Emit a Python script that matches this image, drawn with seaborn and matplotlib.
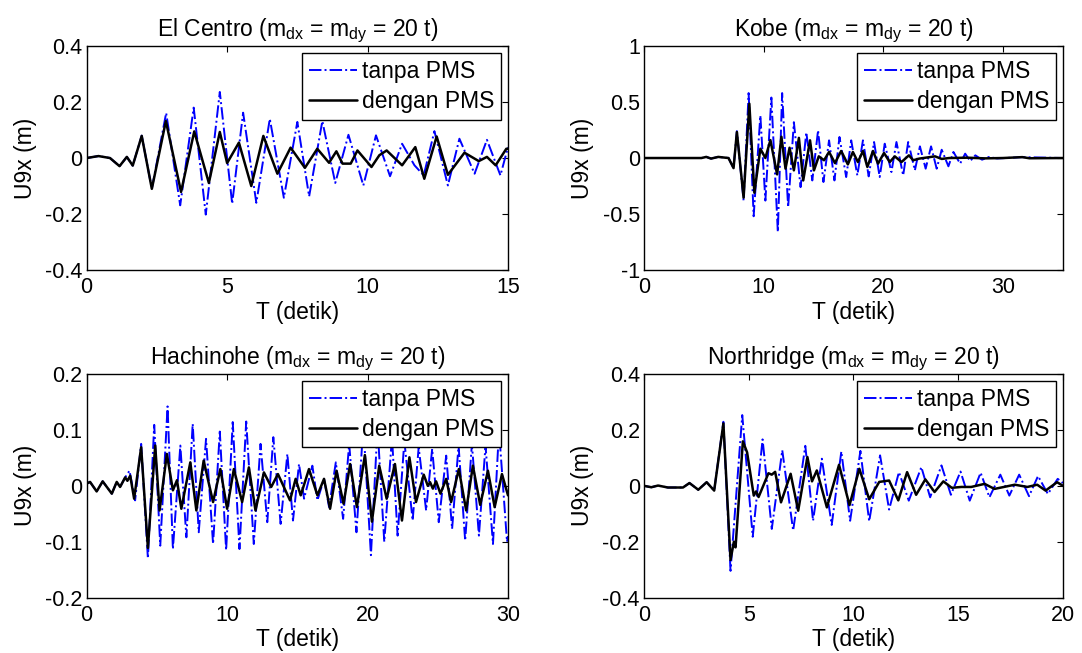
import matplotlib
matplotlib.use("Agg")
import matplotlib.pyplot as plt
import seaborn as sns
from matplotlib.ticker import FuncFormatter

# El Centro
elc_t_tanpa = [0, 0.42, 0.83, 1.17, 1.43, 1.64, 1.96, 2.32, 2.83, 3.33, 3.81, 4.24, 4.74, 5.18, 5.57, 6.04,
               6.52, 7.02, 7.5, 7.92, 8.39, 8.85, 9.32, 9.85, 10.3, 10.8, 11.23, 11.67, 12.0, 12.38, 12.86,
               13.27, 13.81, 14.25, 14.73, 15.0]
elc_u_tanpa = [0, 0.007, 0, -0.029, 0.004, -0.027, 0.08, -0.11, 0.161, -0.169, 0.18, -0.202, 0.236, -0.163,
               0.162, -0.16, 0.14, -0.142, 0.129, -0.137, 0.132, -0.089, 0.083, -0.098, 0.081, -0.065, 0.051,
               -0.026, -0.062, 0.096, -0.098, 0.069, -0.056, 0.065, -0.062, 0.039]
elc_t_dengan = [0, 0.42, 0.83, 1.17, 1.43, 1.64, 1.96, 2.32, 2.82, 3.36, 3.83, 4.35, 4.74, 5.0, 5.42, 5.86,
                6.29, 6.79, 7.26, 7.77, 8.21, 8.63, 8.89, 9.11, 9.4, 9.64, 10.14, 10.42, 10.68, 11.23, 11.7,
                12.02, 12.46, 12.86, 13.45, 13.96, 14.25, 14.56, 14.94, 15.0]
elc_u_dengan = [0, 0.007, 0, -0.029, 0.004, -0.027, 0.079, -0.11, 0.132, -0.121, 0.095, -0.089, 0.093, -0.018,
                0.055, -0.10, 0.079, -0.056, 0.037, -0.035, 0.033, -0.017, 0.024, -0.02, -0.02, 0.027, -0.032,
                0.01, 0.027, -0.026, 0.039, -0.074, 0.077, -0.06, 0.019, -0.011, 0.004, -0.026, 0.033, 0.033]

# Kobe
kobe_t_tanpa = [0, 4.8, 5.2, 5.6, 6.2, 7.06, 7.48, 7.76, 8.32, 8.74, 9.16, 9.72, 10.14, 10.64, 11.18, 11.54,
                12.04, 12.52, 13.08, 13.56, 14.06, 14.54, 14.99, 15.46, 15.91, 16.33, 16.89, 17.31, 17.82,
                18.29, 18.77, 19.22, 19.69, 20.11, 20.67, 21.09, 21.65, 22.07, 22.63, 23.05, 23.53, 23.98,
                24.45, 24.87, 25.43, 25.85, 26.41, 26.83, 27.25, 27.68, 28.24, 28.8, 29.5, 31.6, 35.0]
kobe_u_tanpa = [0, 0, 0.01, -0.005, 0.01, 0, -0.09, 0.24, -0.38, 0.58, -0.52, 0.38, -0.38, 0.54, -0.66, 0.58,
                -0.44, 0.32, -0.26, 0.23, -0.2, 0.247, -0.214, 0.158, -0.2, 0.188, -0.17, 0.158, -0.155,
                0.158, -0.164, 0.143, -0.17, 0.128, -0.125, 0.143, -0.155, 0.143, -0.11, 0.104, -0.095, 0.104,
                -0.095, 0.074, -0.074, 0.054, -0.05, 0.039, -0.027, 0.024, -0.015, 0.009, -0.004, 0.008, 0]
kobe_t_dengan = [0, 4.8, 5.2, 5.6, 6.2, 7.06, 7.48, 7.76, 8.32, 8.8, 9.22, 9.72, 10.14, 10.56, 11.12, 11.48,
                 11.82, 12.16, 12.52, 12.94, 13.3, 13.87, 14.2, 14.6, 15.04, 15.46, 15.95, 16.47, 17.03, 17.45,
                 17.87, 18.29, 18.66, 19.13, 19.55, 20.05, 20.53, 20.95, 21.51, 22.13, 22.49, 23.0, 24.31,
                 24.87, 25.5, 27.0, 28.5, 30.0, 31.6, 32.2, 35.0]
kobe_u_dengan = [0, 0, 0.01, -0.005, 0.01, 0, -0.09, 0.232, -0.354, 0.485, -0.31, 0.083, 0, 0.16, -0.146, 0.19,
                 -0.095, 0.092, -0.11, 0.18, -0.2, 0.158, -0.11, 0.015, -0.02, 0.054, -0.045, 0.063, -0.057,
                 0.054, -0.036, 0.063, -0.08, 0.063, -0.05, 0.045, -0.036, 0.015, -0.036, 0.024, -0.02, -0.005,
                 0.015, -0.008, 0.0, 0.003, -0.003, 0.0, 0.008, -0.002, 0.0]

# Hachinohe
hac_t_tanpa = [0, 0.24, 0.71, 1.14, 1.79, 2.14, 2.38, 2.74, 3.05, 3.45, 3.88, 4.36, 4.81, 5.24, 5.76, 6.14,
               6.67, 7.1, 7.55, 7.98, 8.5, 9.0, 9.48, 9.93, 10.4, 10.88, 11.36, 11.9, 12.38, 12.86, 13.29,
               13.81, 14.29, 14.69, 15.12, 15.48, 16.07, 16.43, 16.9, 17.26, 17.74, 18.26, 18.69, 19.21, 19.7,
               20.24, 20.71, 21.19, 21.74, 22.14, 22.62, 23.21, 23.64, 24.17, 24.6, 25.07, 25.6, 26.02, 26.48,
               26.95, 27.43, 27.93, 28.4, 28.93, 29.36, 29.93, 30.0]
hac_u_tanpa = [0.004, 0.007, -0.01, 0.008, -0.014, 0.007, -0.002, 0.015, 0.027, -0.026, 0.075, -0.13, 0.109,
               -0.107, 0.142, -0.113, 0.072, -0.092, 0.111, -0.083, 0.084, -0.104, 0.097, -0.115, 0.114, -0.113,
               0.115, -0.104, 0.075, -0.065, 0.087, -0.068, 0.057, -0.062, 0.039, -0.023, 0.036, -0.026, 0.0125,
               -0.038, 0.042, -0.059, 0.075, -0.083, 0.108, -0.124, 0.105, -0.1, 0.087, -0.089, 0.08, -0.062,
               0.069, -0.044, 0.066, -0.065, 0.054, -0.077, 0.072, -0.098, 0.075, -0.089, 0.072, -0.104, 0.1,
               -0.1, -0.09]
hac_t_dengan = [0, 0.24, 0.71, 1.14, 1.79, 2.14, 2.38, 2.74, 2.9, 3.1, 3.38, 3.88, 4.36, 4.88, 5.19, 5.71,
                6.14, 6.43, 6.74, 7.38, 7.81, 8.33, 9.0, 9.52, 10.0, 10.48, 11.07, 11.55, 12.02, 12.62, 13.14,
                13.62, 14.48, 14.88, 15.24, 15.83, 16.43, 16.9, 17.33, 17.79, 18.29, 18.76, 19.24, 19.81, 20.31,
                20.83, 21.36, 21.95, 22.45, 22.98, 23.45, 24.0, 24.29, 24.45, 24.65, 24.88, 25.19, 25.6, 25.95,
                26.5, 27.02, 27.5, 28.02, 28.57, 29.05, 29.57, 30.0]
hac_u_dengan = [0.004, 0.007, -0.01, 0.008, -0.014, 0.007, -0.002, 0.015, 0.009, 0.018, -0.023, 0.069, -0.111,
                0.072, -0.044, 0.057, -0.008, 0.01, -0.041, 0.042, -0.044, 0.045, -0.029, 0.03, -0.041, 0.03,
                -0.029, 0.033, -0.044, 0.024, -0.002, 0.021, -0.026, 0.0125, -0.017, 0.03, -0.017, 0.0125,
                -0.041, 0.027, -0.032, 0.039, -0.038, 0.055, -0.064, 0.036, -0.023, 0.039, -0.062, 0.051,
                -0.029, 0.02, 0, 0.0065, -0.005, 0.008, -0.014, 0.0125, -0.029, 0.03, -0.044, 0.036, -0.034,
                0.027, -0.038, 0.021, -0.017]

# Northridge
nor_t_tanpa = [0, 0.35, 0.67, 1.14, 1.86, 2.17, 2.59, 2.99, 3.35, 3.79, 4.13, 4.69, 5.19, 5.66, 6.1, 6.6,
               7.12, 7.7, 8.07, 8.49, 8.96, 9.42, 9.84, 10.33, 10.75, 11.27, 11.7, 12.17, 12.64, 13.24, 13.66,
               14.2, 14.65, 15.11, 15.55, 16.07, 16.49, 17.01, 17.44, 17.91, 18.38, 18.81, 19.28, 19.75, 20.0]
nor_u_tanpa = [0, -0.005, 0.001, -0.006, -0.006, 0.01, -0.014, 0.013, -0.017, 0.229, -0.304, 0.253, -0.182,
               0.166, -0.154, 0.127, -0.16, 0.143, -0.125, 0.097, -0.14, 0.123, -0.125, 0.125, -0.127, 0.109,
               -0.085, 0.049, -0.053, 0.067, -0.041, 0.073, -0.032, 0.051, -0.053, 0.047, -0.041, 0.04, -0.035,
               0.04, -0.037, 0.035, -0.029, 0.025, 0.01]
nor_t_dengan = [0, 0.35, 0.67, 1.14, 1.86, 2.17, 2.59, 2.99, 3.35, 3.79, 4.13, 4.29, 4.37, 4.72, 4.92, 5.24,
                5.35, 5.47, 5.94, 6.1, 6.26, 6.54, 7.0, 7.36, 7.8, 8.02, 8.25, 8.73, 9.31, 9.81, 10.28, 10.75,
                11.23, 11.7, 12.14, 12.56, 12.99, 13.43, 13.87, 14.29, 14.69, 15.15, 15.62, 16.26, 16.73, 17.7,
                18.3, 18.77, 19.17, 19.72, 20.0]
nor_u_dengan = [0, -0.005, 0.001, -0.006, -0.006, 0.01, -0.014, 0.013, -0.017, 0.223, -0.265, -0.2, -0.22,
                0.159, 0.12, -0.035, -0.02, -0.04, 0.045, 0.04, 0.05, -0.059, 0.043, -0.089, 0.103, 0.016,
                0.055, -0.077, 0.075, -0.069, 0.061, -0.048, 0.014, 0.019, -0.052, 0.049, -0.032, 0.023,
                -0.022, 0.016, -0.007, -0.004, -0.004, 0.007, -0.011, 0.004, -0.004, 0.004, -0.017, 0.013, 0]

titles = ["El Centro", "Kobe", "Hachinohe", "Northridge"]
xlims = [15, 35, 30, 20]
xticks = [[0, 5, 10, 15], [0, 10, 20, 30], [0, 10, 20, 30], [0, 5, 10, 15, 20]]
ylims = [0.4, 1, 0.2, 0.4]
yticks = [[-0.4, -0.2, 0, 0.2, 0.4], [-1, -0.5, 0, 0.5, 1], [-0.2, -0.1, 0, 0.1, 0.2], [-0.4, -0.2, 0, 0.2, 0.4]]

sns.set_style("white")
plt.rcParams['font.family'] = ['Liberation Sans', 'DejaVu Sans']
plt.rcParams['mathtext.default'] = 'regular'
plt.rcParams['axes.unicode_minus'] = False
plt.rcParams['text.color'] = 'black'
plt.rcParams['axes.labelcolor'] = 'black'
plt.rcParams['xtick.color'] = 'black'
plt.rcParams['ytick.color'] = 'black'

fig = plt.figure(figsize=(10.82, 6.53), dpi=100)
positions = [[0.0801, 0.5865, 0.3894, 0.3430], [0.5952, 0.5865, 0.3872, 0.3430],
             [0.0801, 0.0847, 0.3894, 0.3426], [0.5952, 0.0847, 0.3872, 0.3426]]
data = [(elc_t_tanpa, elc_u_tanpa, elc_t_dengan, elc_u_dengan),
        (kobe_t_tanpa, kobe_u_tanpa, kobe_t_dengan, kobe_u_dengan),
        (hac_t_tanpa, hac_u_tanpa, hac_t_dengan, hac_u_dengan),
        (nor_t_tanpa, nor_u_tanpa, nor_t_dengan, nor_u_dengan)]

for i in range(4):
    ax = fig.add_axes(positions[i])
    t1, u1, t2, u2 = data[i]
    sns.lineplot(x=t1, y=u1, ax=ax, color=(0, 0, 1), linestyle='-.', linewidth=1.4,
                 sort=False, estimator=None, label='tanpa PMS')
    sns.lineplot(x=t2, y=u2, ax=ax, color='black', linestyle='-', linewidth=1.8,
                 sort=False, estimator=None, label='dengan PMS')
    ax.set_xlim(0, xlims[i])
    ax.set_ylim(-ylims[i], ylims[i])
    ax.set_xticks(xticks[i])
    ax.set_yticks(yticks[i])
    ax.xaxis.set_major_formatter(FuncFormatter(lambda v, p: '%g' % v))
    ax.yaxis.set_major_formatter(FuncFormatter(lambda v, p: '%g' % v))
    ax.tick_params(direction='in', length=4, width=0.8, top=True, right=True,
                   labelsize=15.5, colors='black')
    ax.tick_params(axis='x', pad=5)
    ax.tick_params(axis='y', pad=3)
    for s in ax.spines.values():
        s.set_color('black')
        s.set_linewidth(1.0)
    ax.set_xlabel('T (detik)', fontsize=16.5, labelpad=2, color='black')
    ax.set_ylabel('U9x (m)', fontsize=16.5, labelpad=6, color='black')
    ax.set_title(titles[i] + ' (m$_{dx}$ = m$_{dy}$ = 20 t)', fontsize=16.5, pad=7, color='black')
    leg = ax.legend(loc='upper right', fontsize=16.5, frameon=True, fancybox=False, edgecolor='black',
                    framealpha=1, borderaxespad=0.3, handlelength=2.1, handletextpad=0.2,
                    borderpad=0.3, labelspacing=0.3)
    for txt in leg.get_texts():
        txt.set_color('black')
    leg.get_frame().set_linewidth(1.0)

fig.savefig('out.png', dpi=100)
